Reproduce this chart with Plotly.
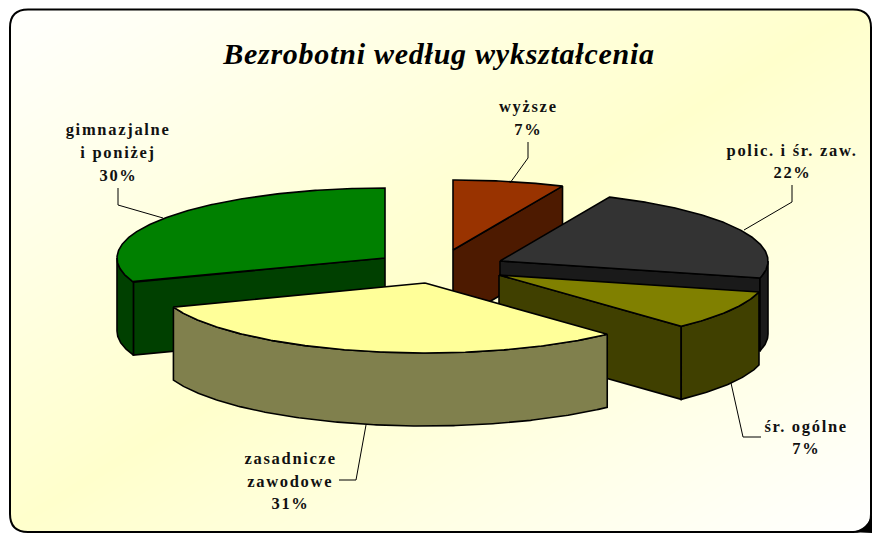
import numpy as np
import plotly.graph_objects as go

# ---- data ----
categories = ["wyższe", "polic. i śr. zaw.", "śr. ogólne", "zasadnicze zawodowe", "gimnazjalne i poniżej"]
label_lines = [["wyższe", "7%"], ["polic. i śr. zaw.", "22%"], ["śr. ogólne", "7%"],
               ["zasadnicze", "zawodowe", "31%"], ["gimnazjalne", "i poniżej", "30%"]]
slice_shares = [6.7, 22.2, 9.2, 31.3, 30.6]
title_text = "Bezrobotni według wykształcenia"

# ---- styling / layout ----
W, H = 872, 533
top_colors = ["#993300", "#333333", "#808000", "#FFFF99", "#008000"]
side_colors = ["#4D1A00", "#1A1A1A", "#404000", "#80804D", "#004000"]
explode_centers = [(453, 250), (500, 261), (499, 275), (425, 283), (385, 258)]
RX, RY, DEPTH = 268, 70, 73
draw_order = [0, 1, 2, 4, 3]
label_centers = [(528, [106, 129]), (792, [150, 172]), (806, [426, 448]),
                 (290, [458, 481, 503]), (118, [129, 152, 175])]
leaders = [[(528, 142), (528, 158), (510, 183)], [(792, 185), (792, 202), (744, 230)],
           [(731, 383), (743, 437), (761, 437)], [(366, 425), (356, 480), (339, 480)],
           [(118, 188), (118, 205), (163, 218)]]

edges = np.concatenate([[0], np.cumsum(slice_shares)]) / sum(slice_shares) * 360


def rim(center, a0, a1, dz=0):
    t = np.radians(np.linspace(a0, a1, max(2, int(abs(a1 - a0) * 2))))
    return center[0] + RX * np.sin(t), center[1] - RY * np.cos(t) + dz


def add_poly(fig, xs, ys, color):
    fig.add_trace(go.Scatter(x=np.r_[xs, xs[0]], y=np.r_[ys, ys[0]], mode="lines", fill="toself",
                             fillcolor=color, line=dict(color="black", width=1.6),
                             hoverinfo="skip", showlegend=False))


fig = go.Figure()

# background gradient
gx = np.linspace(0, W, 33)
gy = np.linspace(0, H, 33)
gz = (gx[None, :] / W + gy[:, None] / H) / 2
fig.add_trace(go.Heatmap(x=gx, y=gy, z=gz, zmin=0, zmax=1, zsmooth="best", showscale=False, hoverinfo="skip",
                         colorscale=[[0, "#FFFFFF"], [0.5, "#FFFFCC"], [1, "#FFFFFF"]]))

for i in draw_order:
    c = explode_centers[i]
    a0, a1 = edges[i], edges[i + 1]
    # radial walls facing the viewer
    if 0 < a1 % 360 < 180:
        px, py = rim(c, a1, a1)
        add_poly(fig, [c[0], px[0], px[0], c[0]], [c[1], py[0], py[0] + DEPTH, c[1] + DEPTH], side_colors[i])
    if 180 < a0 < 360:
        px, py = rim(c, a0, a0)
        add_poly(fig, [c[0], px[0], px[0], c[0]], [c[1], py[0], py[0] + DEPTH, c[1] + DEPTH], side_colors[i])
    # outer rim, front half only
    r0, r1 = max(a0, 90), min(a1, 270)
    if r1 > r0:
        tx, ty = rim(c, r0, r1)
        bx, by = rim(c, r1, r0, DEPTH)
        add_poly(fig, np.r_[tx, bx], np.r_[ty, by], side_colors[i])
    # top face
    tx, ty = rim(c, a0, a1)
    add_poly(fig, np.r_[c[0], tx], np.r_[c[1], ty], top_colors[i])

L, T, R, B, r = 10, 9.5, 871, 532, 18
frame = (f"M{L},{T + r} Q{L},{T} {L + r},{T} L{R - r},{T} Q{R},{T} {R},{T + r} "
         f"L{R},{B - r} Q{R},{B} {R - r},{B} L{L + r},{B} Q{L},{B} {L},{B - r} Z")
mask = f"M0,0 L0,{H} L{W},{H} L{W},0 Z " + frame
shapes = [dict(type="path", path=mask, xref="x", yref="y", fillcolor="white", line=dict(width=0), layer="above"),
          dict(type="path", path=frame, xref="x", yref="y", line=dict(color="black", width=2), layer="above"),
          dict(type="path", path=f"M{W},{B - 20} Q{W - 3},{B - 2} {W - 22},{B} L{W},{H} Z", xref="x", yref="y",
               fillcolor="black", line=dict(width=0), layer="above")]
for pts in leaders:
    shapes.append(dict(type="path", path="M" + " L".join(f"{x},{y}" for x, y in pts), xref="x", yref="y",
                       line=dict(color="black", width=1), layer="above"))

annotations = []
for lines, (cx, ys) in zip(label_lines, label_centers):
    for txt, y in zip(lines, ys):
        annotations.append(dict(x=cx, y=y, text=f"<b>{txt}</b>", xref="x", yref="y", showarrow=False,
                                xanchor="center", yanchor="middle",
                                font=dict(family="Liberation Serif", size=16.5, color="#111111")))

fig.update_layout(
    width=W, height=H, margin=dict(l=0, r=0, t=0, b=0), paper_bgcolor="white", plot_bgcolor="white",
    xaxis=dict(range=[0, W], visible=False, fixedrange=True),
    yaxis=dict(range=[H, 0], visible=False, fixedrange=True),
    title=dict(text=f"<b><i>{title_text}</i></b>", x=439 / W, xanchor="center", y=1 - 53 / H, yanchor="middle",
               font=dict(family="Liberation Serif", size=30, color="black")),
    shapes=shapes, annotations=annotations, showlegend=False,
)

post = """
document.body.style.margin='0';document.body.style.overflow='hidden';
var s=document.createElement('style');
s.textContent='.annotation-text{letter-spacing:1.7px}.gtitle{letter-spacing:0.75px}';
document.head.appendChild(s);
"""
fig.write_html("out.html", post_script=post, config={"displayModeBar": False})
